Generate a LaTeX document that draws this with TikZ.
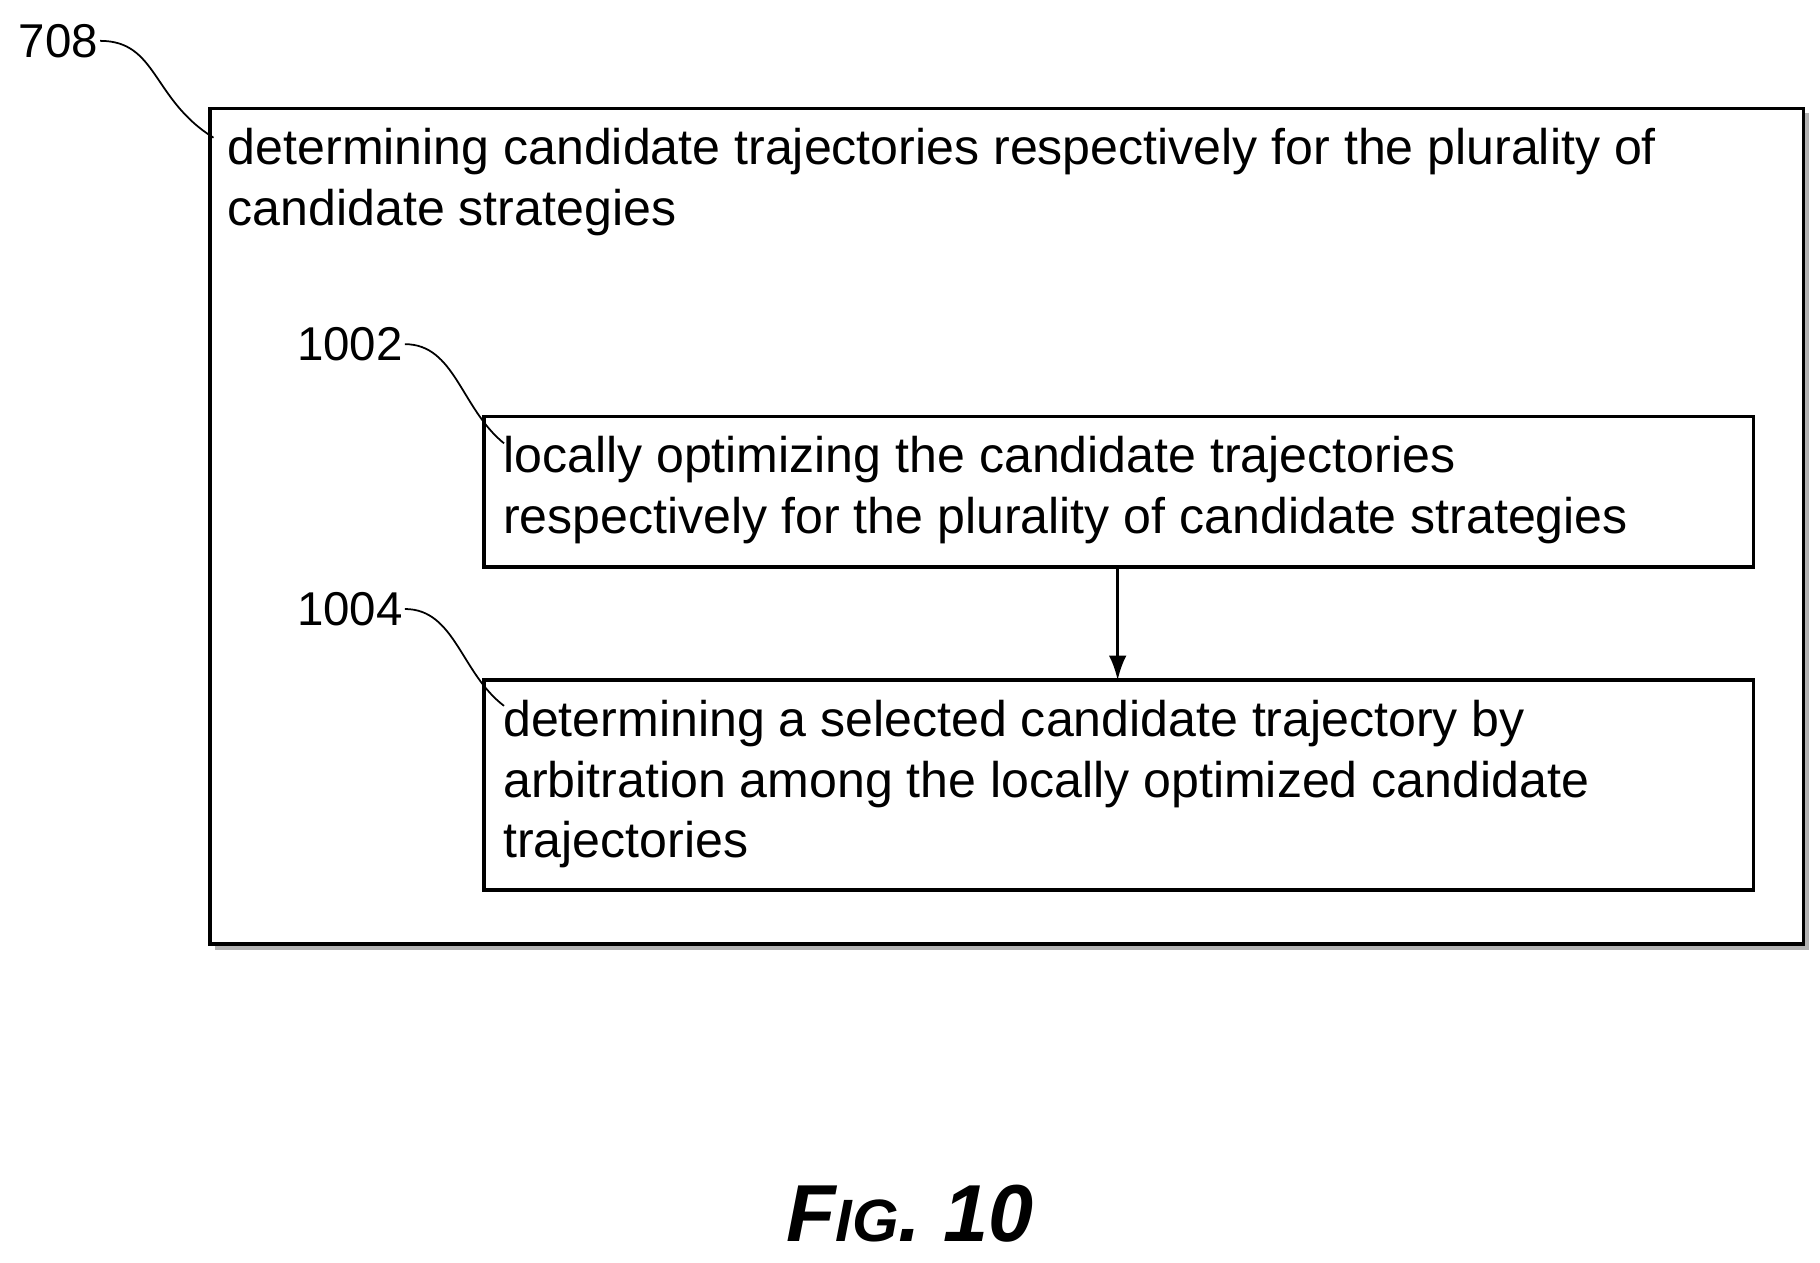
\documentclass[tikz,border=0pt]{standalone}
\usepackage{fontspec}
\setmainfont{Liberation Sans}
\usetikzlibrary{arrows.meta}
\begin{document}
\begin{tikzpicture}[x=0.023333cm,y=-0.023333cm,
  box/.style={draw,line width=2pt},
  shad/.style={draw=gray!60,line width=2.5pt},
  txt/.style={anchor=north west,align=left,inner sep=0pt,font=\fontsize{28.5}{34.5}\selectfont},
  lbl/.style={font=\fontsize{27}{30}\selectfont,inner sep=1pt},
  lead/.style={line width=1pt}]
\useasboundingbox (0,0) rectangle (1560,1082);
% shadows
\draw[shad] (184,812) -- (1549,812) -- (1549,97);
\draw[shad] (419,489) -- (1506,489) -- (1506,361);
\draw[shad] (419,766) -- (1506,766) -- (1506,587);
\draw[box,fill=white] (180,93) rectangle (1546,809);
\draw[box,fill=white] (415,357) rectangle (1503,486);
\draw[box,fill=white] (415,583) rectangle (1503,763);
\coordinate (b1s) at (958,486);
\coordinate (b2n) at (958,583);
\node[txt] (t0) at (195,110) {determining candidate trajectories respectively for the plurality of\\candidate strategies};
\node[txt] (t1) at (431,374) {locally optimizing the candidate trajectories\\respectively for the plurality of candidate strategies};
\node[txt] (t2) at (431,600) {determining a selected candidate trajectory by\\arbitration among the locally optimized candidate\\trajectories};
\draw[line width=1.5pt,-{Latex[length=14pt,width=10pt]}] (b1s) -- (b2n);
\node[lbl] (l708) at (50,35) {708};
\node[lbl] (l1002) at (300,295) {1002};
\node[lbl] (l1004) at (300,522) {1004};
\coordinate (e0) at (183,118);
\coordinate (e1) at (432,380);
\coordinate (e2) at (432,605);
\draw[lead] (l708.east) .. controls (135,35) and (130,85) .. (e0);
\draw[lead] (l1002.east) .. controls (390,295) and (395,350) .. (e1);
\draw[lead] (l1004.east) .. controls (390,522) and (395,577) .. (e2);
\node[font=\fontsize{46}{50}\selectfont\bfseries\itshape] (fig) at (780,1040) {F{\fontsize{34}{40}\selectfont IG}. 10};
\end{tikzpicture}
\end{document}
